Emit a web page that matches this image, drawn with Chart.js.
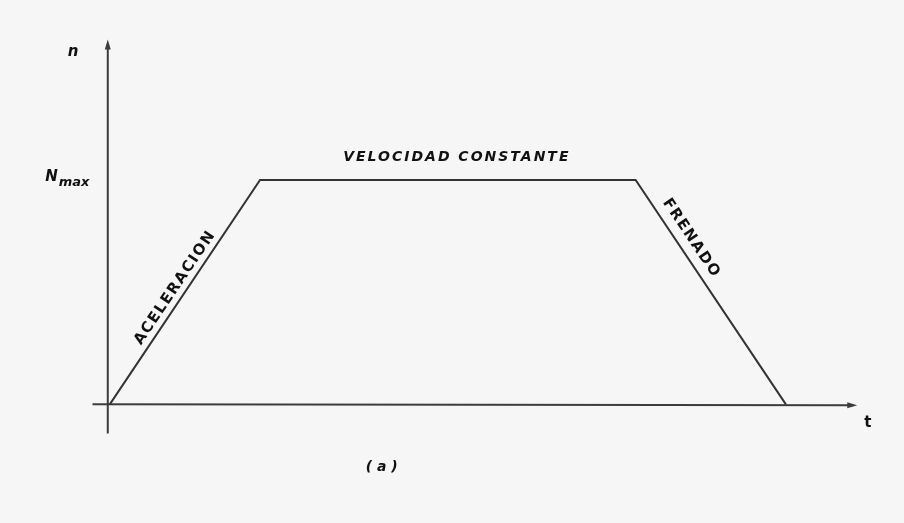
<!DOCTYPE html>
<html>
<head>
<meta charset="utf-8">
<script src="https://cdn.jsdelivr.net/npm/chart.js@4.4.0/dist/chart.umd.min.js"></script>
<style>
  html, body { margin: 0; padding: 0; background: #f6f6f6; }
  #wrap { width: 904px; height: 523px; }
</style>
</head>
<body>
<div id="wrap"><canvas id="myChart" width="904" height="523"></canvas></div>
<script>
// time points of the speed profile (arbitrary units) and the speed n (Nmax = 1)
var tValues = [0, 2, 7, 9];
var nValues = [0, 1, 1, 0];

// axis extents, in data units
var tAxis = [-0.23, 9.95];
var nAxis = [-0.13, 1.625];

// labels: text, t, n, font
var labels = [
  { text: 'VELOCIDAD CONSTANTE', t: 4.62, n: 1.1, font: 'italic bold 14px "DejaVu Sans"', spacing: '2px' },
  { text: 't', t: 10.09, n: -0.085, font: 'bold 15px "DejaVu Sans"' },
  { text: 'n', t: -0.49, n: 1.57, font: 'italic bold 15px "DejaVu Sans"' },
  { text: '( a )', t: 3.62, n: -0.28, font: 'italic bold 14px "DejaVu Sans"' }
];
// labels written along a segment of the profile (segment index, position)
var slopeLabels = [
  { text: 'ACELERACION', seg: 0, t: 0.87, n: 0.52 },
  { text: 'FRENADO', seg: 2, t: 7.74, n: 0.74 }
];

var axesPlugin = {
  id: 'axesPlugin',
  beforeDatasetsDraw: function(chart) {
    var ctx = chart.ctx, xs = chart.scales.x, ys = chart.scales.y;
    ctx.save();
    ctx.strokeStyle = '#3c3c3c';
    ctx.fillStyle = '#3c3c3c';
    ctx.lineWidth = 2;
    // y axis
    var x0 = xs.getPixelForValue(0) - 2;
    var yTop = ys.getPixelForValue(nAxis[1]);
    ctx.beginPath();
    ctx.moveTo(x0, ys.getPixelForValue(nAxis[0]));
    ctx.lineTo(x0, yTop + 4);
    ctx.stroke();
    ctx.beginPath();
    ctx.moveTo(x0, yTop);
    ctx.lineTo(x0 - 3, yTop + 10);
    ctx.lineTo(x0 + 3, yTop + 10);
    ctx.closePath();
    ctx.fill();
    // x axis
    var y0 = ys.getPixelForValue(0);
    var xEnd = xs.getPixelForValue(tAxis[1]);
    ctx.beginPath();
    ctx.moveTo(xs.getPixelForValue(tAxis[0]), y0);
    ctx.lineTo(xEnd - 4, y0 + 1);
    ctx.stroke();
    ctx.beginPath();
    ctx.moveTo(xEnd, y0 + 1);
    ctx.lineTo(xEnd - 10, y0 - 2);
    ctx.lineTo(xEnd - 10, y0 + 4);
    ctx.closePath();
    ctx.fill();
    ctx.restore();
  },
  afterDatasetsDraw: function(chart) {
    var ctx = chart.ctx, xs = chart.scales.x, ys = chart.scales.y;
    ctx.save();
    ctx.fillStyle = '#111';
    ctx.textAlign = 'center';
    ctx.textBaseline = 'middle';
    labels.forEach(function(l) {
      ctx.font = l.font;
      ctx.letterSpacing = l.spacing || '0px';
      ctx.fillText(l.text, xs.getPixelForValue(l.t), ys.getPixelForValue(l.n));
    });
    // N max on the y axis
    ctx.letterSpacing = '0px';
    var yN = ys.getPixelForValue(1);
    var xN = xs.getPixelForValue(-0.27);
    ctx.textAlign = 'right';
    ctx.font = 'italic bold 13px "DejaVu Sans"';
    ctx.fillText('max', xN, yN + 3);
    var w = ctx.measureText('max').width;
    ctx.font = 'italic bold 15px "DejaVu Sans"';
    ctx.fillText('N', xN - w - 1, yN - 3);
    // labels along the slopes
    var pts = chart.getDatasetMeta(0).data;
    ctx.textAlign = 'center';
    ctx.font = 'bold 15px "DejaVu Sans"';
    ctx.letterSpacing = '1.5px';
    slopeLabels.forEach(function(l) {
      var a = pts[l.seg], b = pts[l.seg + 1];
      var ang = Math.atan2(b.y - a.y, b.x - a.x);
      if (ang < -Math.PI / 2 || ang > Math.PI / 2) ang += Math.PI;
      ctx.save();
      ctx.translate(xs.getPixelForValue(l.t), ys.getPixelForValue(l.n));
      ctx.rotate(ang);
      ctx.fillText(l.text, 0, 0);
      ctx.restore();
    });
    ctx.restore();
  }
};

var data = {
  datasets: [{
    data: tValues.map(function(t, i) { return { x: t, y: nValues[i] }; }),
    borderColor: '#333',
    borderWidth: 2,
    pointRadius: 0,
    tension: 0,
    fill: false
  }]
};

var config = {
  type: 'line',
  data: data,
  options: {
    responsive: false,
    animation: false,
    layout: { padding: { left: 91, right: 43, top: 34, bottom: 85 } },
    plugins: { legend: { display: false }, tooltip: { enabled: false } },
    scales: {
      x: { type: 'linear', min: -0.25, max: 10, display: false },
      y: { type: 'linear', min: -0.15, max: 1.65, display: false }
    }
  },
  plugins: [axesPlugin]
};

var myChart = new Chart(document.getElementById('myChart'), config);
</script>
</body>
</html>
